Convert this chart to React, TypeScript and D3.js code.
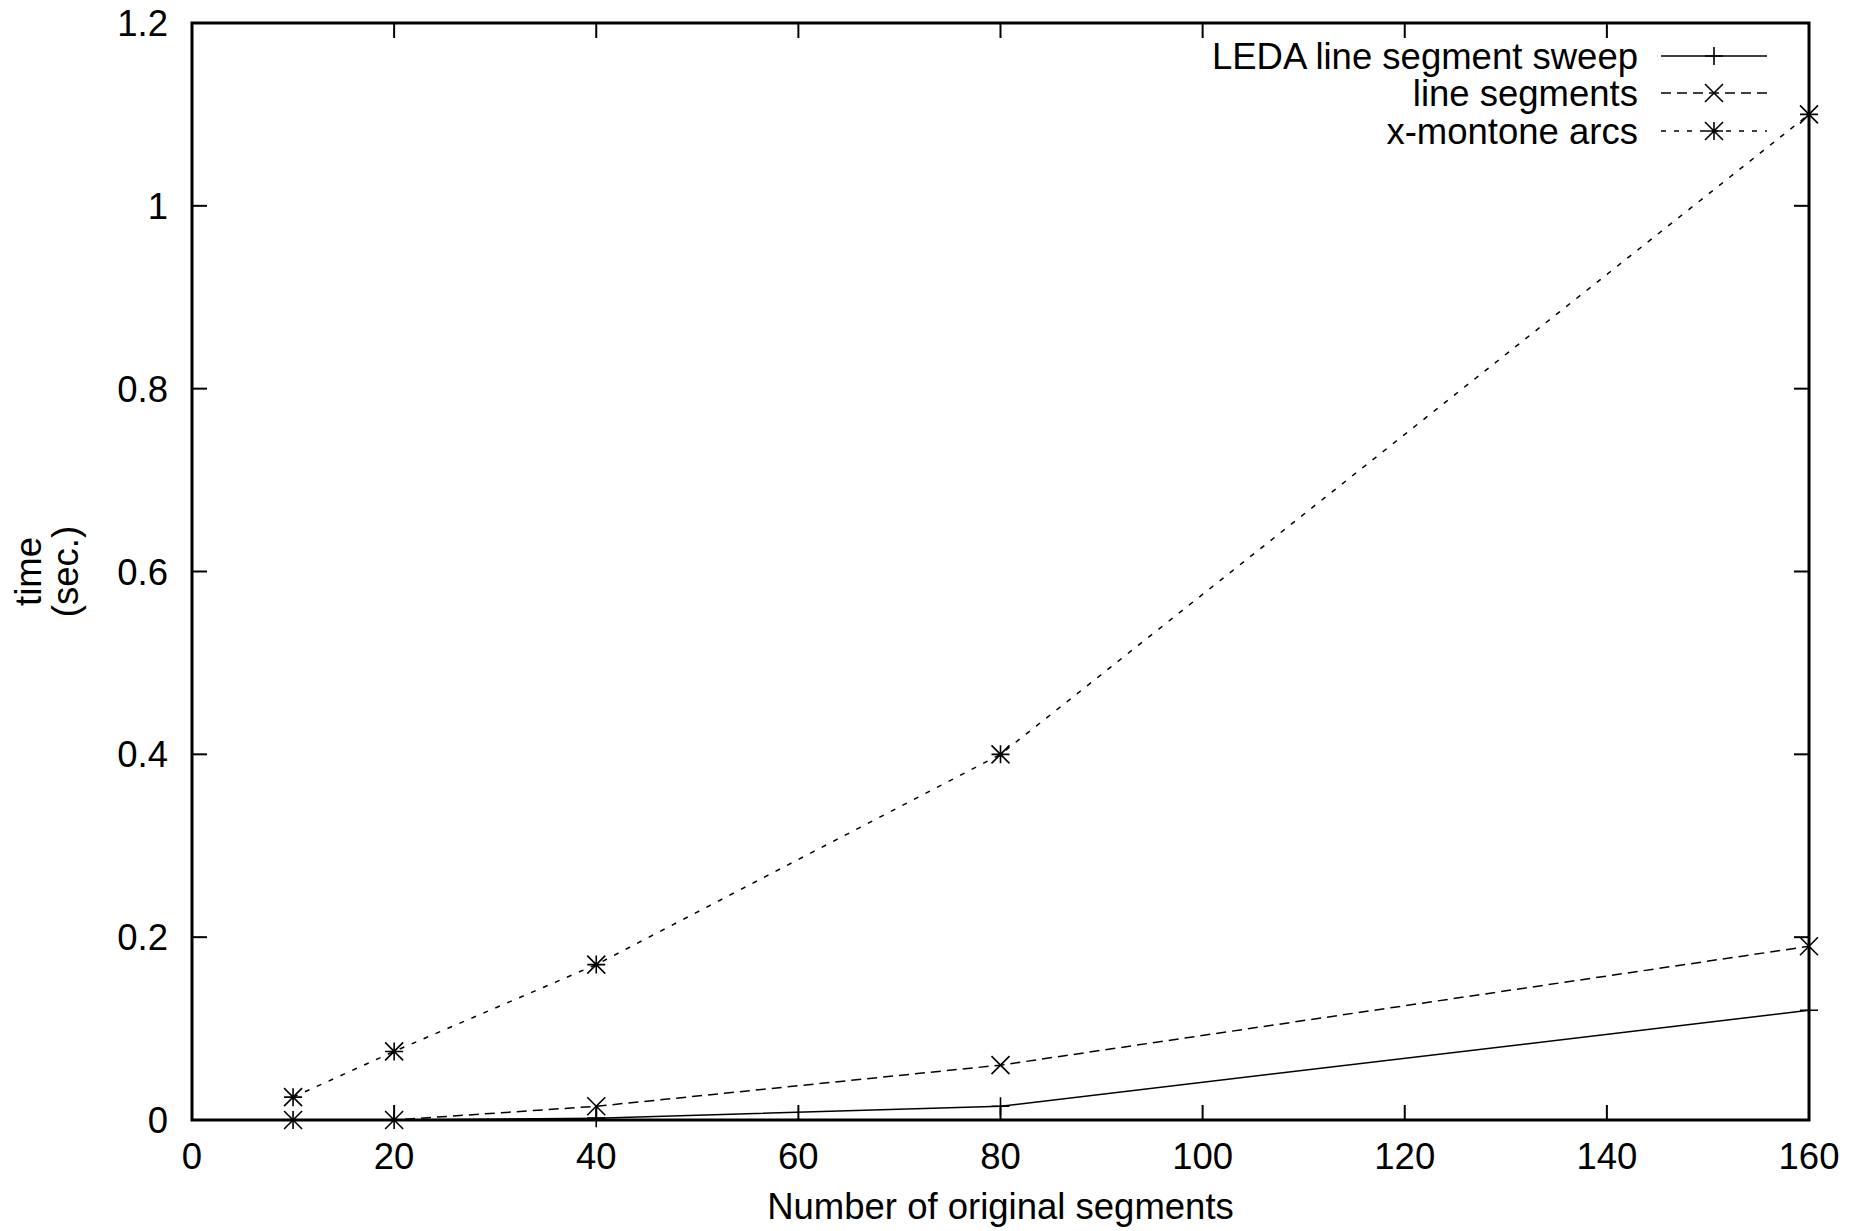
import React from 'react';
import * as d3 from 'd3';

const W = 1860;
const H = 1231;
const M = { left: 192, right: 1809, top: 23, bottom: 1120 };

const xTicks = [0, 20, 40, 60, 80, 100, 120, 140, 160];
const yTicks = [0, 0.2, 0.4, 0.6, 0.8, 1, 1.2];

const nSegments = [10, 20, 40, 80, 160];
const ledaSweep = [0, 0, 0.002, 0.015, 0.12];
const lineSegments = [0, 0, 0.015, 0.06, 0.19];
const xMonotoneArcs = [0.025, 0.075, 0.17, 0.4, 1.1];

const seriesNames = ['LEDA line segment sweep', 'line segments', 'x-montone arcs'];
const seriesValues = [ledaSweep, lineSegments, xMonotoneArcs];
const seriesDash = ['none', '10,6', '5,8'];
const seriesMarker = ['plus', 'cross', 'star'];

const FONT = '"Liberation Sans", Arial, sans-serif';
const FS = 36.5;
const MS = 9;

const Marker = ({ kind, x, y }: { kind: string; x: number; y: number }) => {
  const plus = `M${x - MS},${y}H${x + MS}M${x},${y - MS}V${y + MS}`;
  const cross = `M${x - MS},${y - MS}L${x + MS},${y + MS}M${x - MS},${y + MS}L${x + MS},${y - MS}`;
  const d = kind === 'plus' ? plus : kind === 'cross' ? cross : plus + cross;
  return <path d={d} stroke='#000' strokeWidth={1.6} fill='none' />;
};

const App = () => {
  const xScale = d3.scaleLinear().domain([0, 160]).range([M.left, M.right]);
  const yScale = d3.scaleLinear().domain([0, 1.2]).range([M.bottom, M.top]);

  const line = d3.line<[number, number]>()
    .x(d => xScale(d[0]))
    .y(d => yScale(d[1]));

  const legendY = [56, 93, 131];

  return (
    <svg width={W} height={H} style={{ position: 'absolute', left: 0, top: 0, background: '#fff' }}
      fontFamily={FONT}>
      <rect x={0} y={0} width={W} height={H} fill='#fff' />

      {/* ticks, mirrored on all sides */}
      {xTicks.map(t => (
        <g key={'x' + t}>
          <line x1={xScale(t)} x2={xScale(t)} y1={M.bottom} y2={M.bottom - 15} stroke='#000' strokeWidth={2} />
          <line x1={xScale(t)} x2={xScale(t)} y1={M.top} y2={M.top + 15} stroke='#000' strokeWidth={2} />
          <text x={xScale(t)} y={M.bottom + 49} fontSize={FS} textAnchor='middle'>{t}</text>
        </g>
      ))}
      {yTicks.map(t => (
        <g key={'y' + t}>
          <line x1={M.left} x2={M.left + 15} y1={yScale(t)} y2={yScale(t)} stroke='#000' strokeWidth={2} />
          <line x1={M.right} x2={M.right - 15} y1={yScale(t)} y2={yScale(t)} stroke='#000' strokeWidth={2} />
          <text x={168} y={yScale(t) + 13} fontSize={FS} textAnchor='end'>{t}</text>
        </g>
      ))}

      {/* data */}
      {seriesValues.map((vals, i) => {
        const pts = nSegments.map((n, j) => [n, vals[j]] as [number, number]);
        return (
          <g key={seriesNames[i]}>
            <path d={line(pts) || ''} fill='none' stroke='#000' strokeWidth={1.5}
              strokeDasharray={seriesDash[i]} />
            {pts.map((p, j) => (
              <Marker key={j} kind={seriesMarker[i]} x={xScale(p[0])} y={yScale(p[1])} />
            ))}
          </g>
        );
      })}

      {/* frame */}
      <rect x={M.left} y={M.top} width={M.right - M.left} height={M.bottom - M.top}
        fill='none' stroke='#000' strokeWidth={3} />

      {/* legend */}
      {seriesNames.map((name, i) => (
        <g key={'leg' + i}>
          <text x={1638} y={legendY[i] + 13} fontSize={FS} textAnchor='end'>{name}</text>
          <line x1={1661} x2={1767} y1={legendY[i]} y2={legendY[i]} stroke='#000' strokeWidth={1.5}
            strokeDasharray={seriesDash[i]} />
          <Marker kind={seriesMarker[i]} x={1714} y={legendY[i]} />
        </g>
      ))}

      {/* axis titles */}
      <text x={(M.left + M.right) / 2} y={1219} fontSize={FS} textAnchor='middle'>Number of original segments</text>
      <g transform={`translate(41, ${(M.top + M.bottom) / 2}) rotate(-90)`}>
        <text x={0} y={0} fontSize={FS} textAnchor='middle'>time</text>
        <text x={0} y={37} fontSize={FS} textAnchor='middle'>(sec.)</text>
      </g>
    </svg>
  );
};

export default App;
